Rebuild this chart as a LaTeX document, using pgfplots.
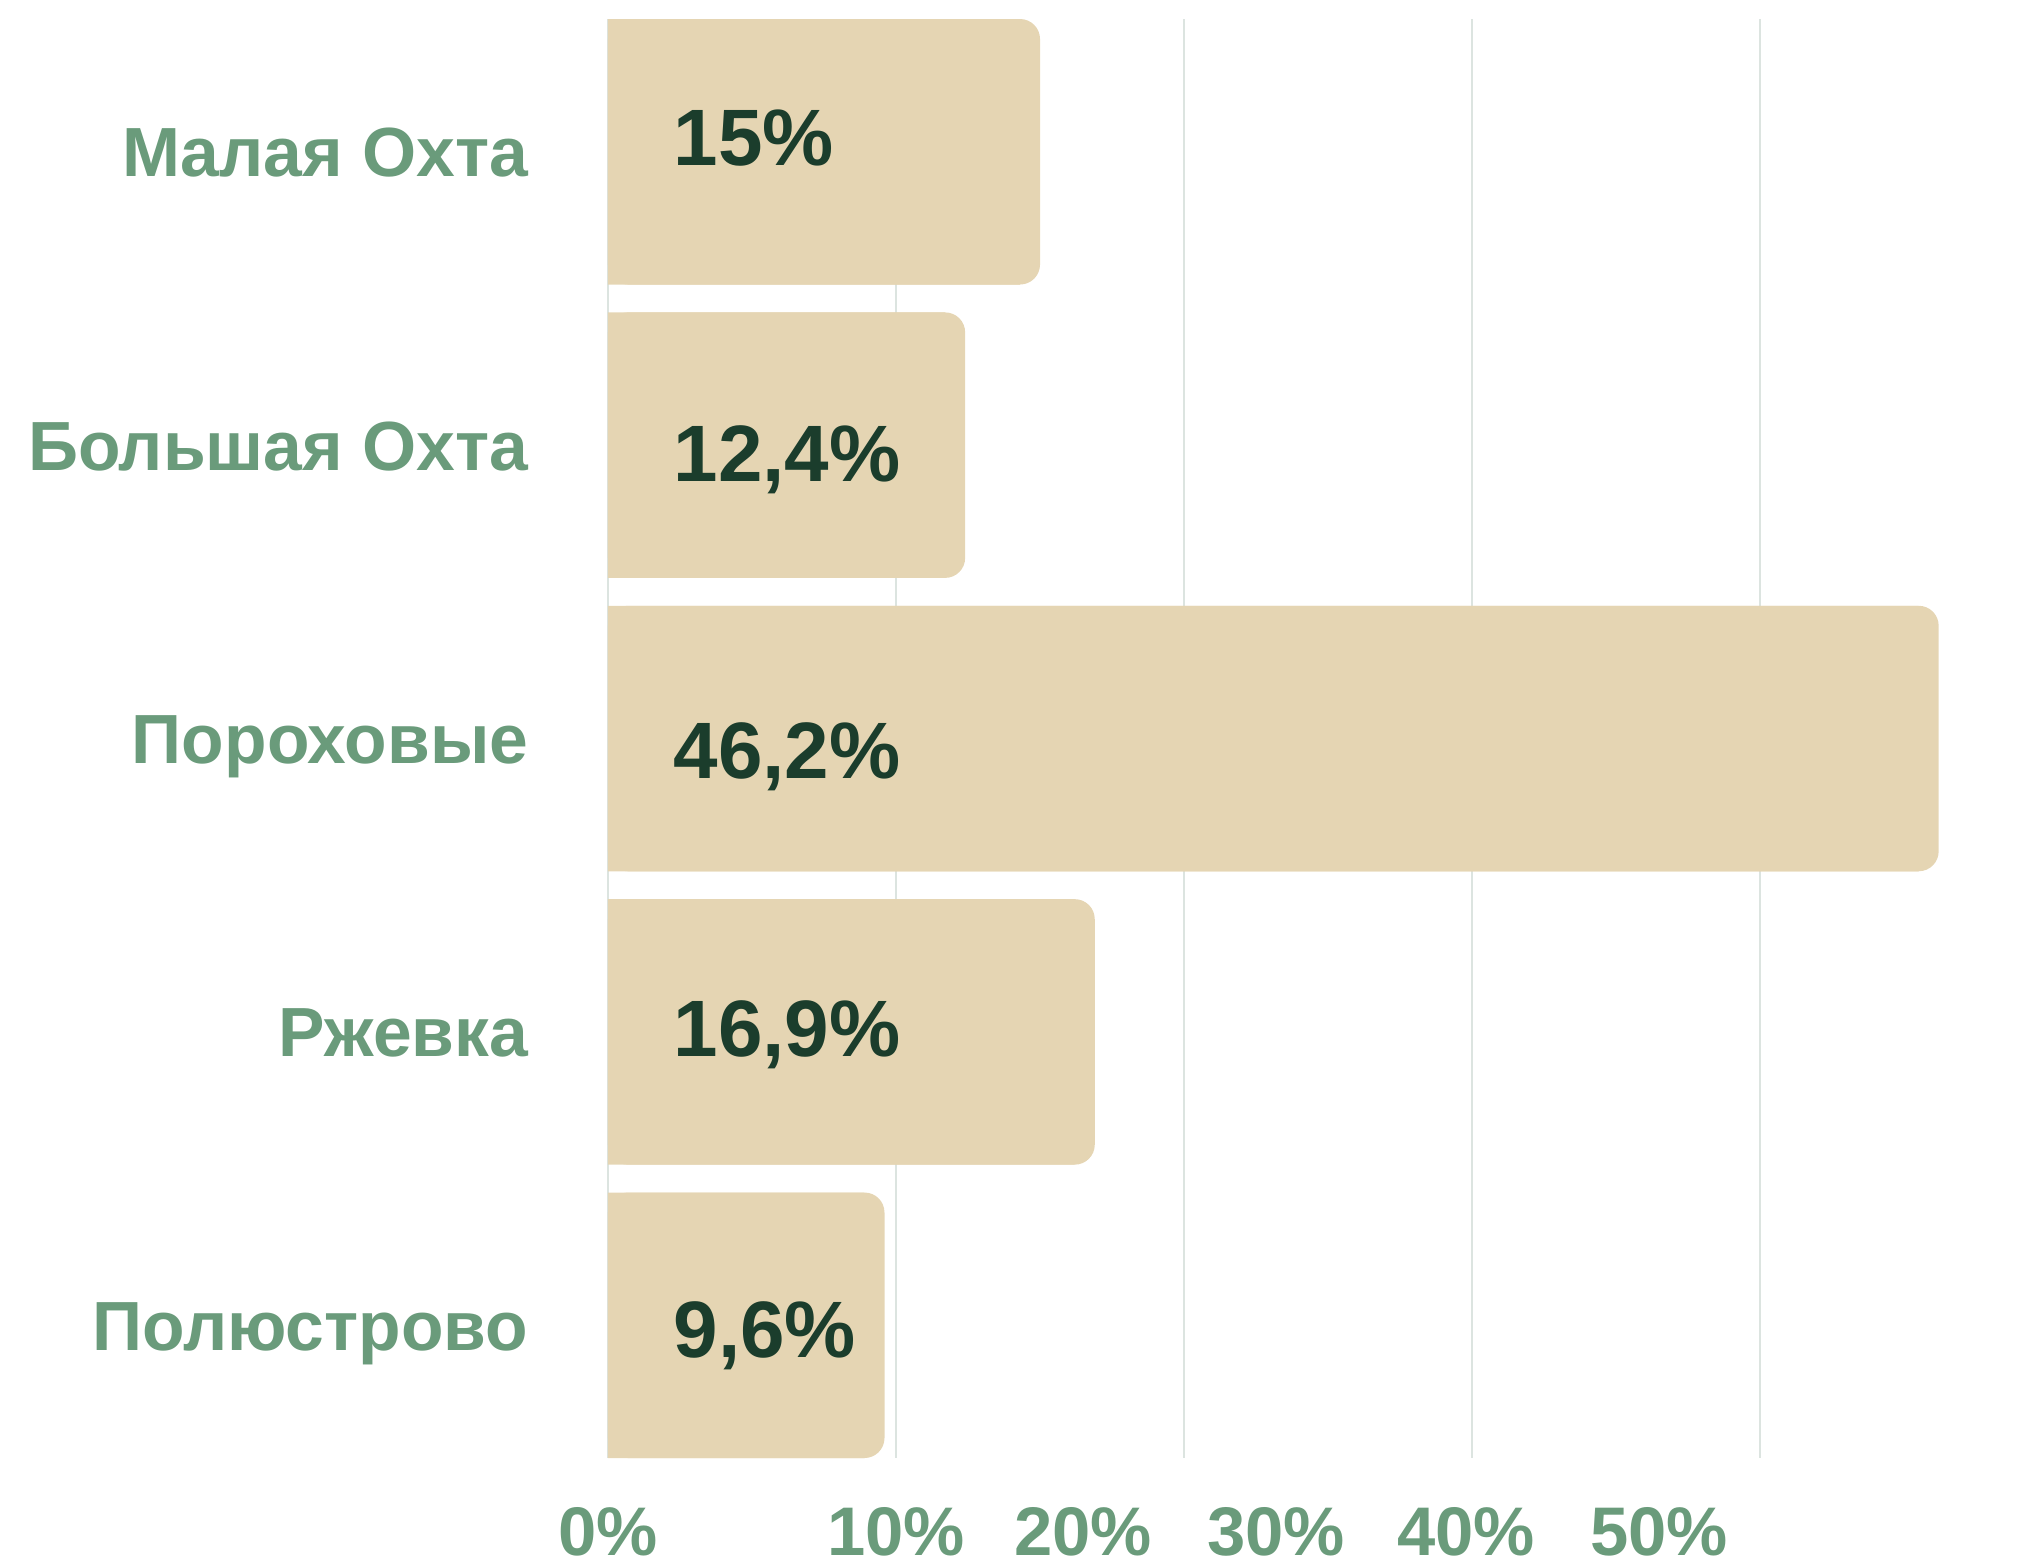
\documentclass[border=0pt]{standalone}
\usepackage{pgfplots}
\usepackage{pgfplotstable}
\pgfplotsset{compat=1.18}
\usepackage{fontspec}
\setmainfont{Liberation Sans}
\definecolor{barfill}{HTML}{E5D5B3}
\definecolor{labgreen}{HTML}{6A9B7B}
\definecolor{valgreen}{HTML}{1B3D2C}
\definecolor{gridc}{HTML}{DCE4E0}

% y: row, v: value
\pgfplotstableread{
y v
0 15
1 12.4
2 46.2
3 16.9
4 9.6
}\data
% ly: vertical position of the value label, lab: its text
\pgfplotstableread{
ly lab
-0.051 15\%
1.026 12,4\%
2.040 46,2\%
2.988 16,9\%
4.012 9,6\%
}\labels

\begin{document}
\begin{tikzpicture}
\begin{axis}[
  scale only axis, width=356pt, height=359.75pt,
  xmin=0, xmax=49.44, ymin=-0.4525, ymax=4.4525, y dir=reverse,
  axis line style={draw=none}, tick style={draw=none},
  xtick={0,10,20,30,40}, xticklabels={}, xmajorgrids,
  grid style={gridc, line width=0.6pt},
  extra x ticks={0,10,16.5,23.2,29.8,36.5},
  extra x tick labels={0\%,10\%,20\%,30\%,40\%,50\%},
  extra x tick style={grid=none},
  xticklabel style={font=\fontsize{17.2}{19}\selectfont\bfseries, text=labgreen, inner sep=0pt, anchor=north},
  xticklabel shift=12.25pt,
  ytick={0,1,2,3,4},
  yticklabels={Малая Охта, Большая Охта, Пороховые, Ржевка, Полюстрово},
  yticklabel style={font=\fontsize{17.4}{20}\selectfont\bfseries, text=labgreen, inner sep=0pt, anchor=base east, yshift=-6.25pt},
  yticklabel shift=19.75pt,
  clip=false,
]
\addplot[xbar, bar shift=0pt, bar width=0.905, fill=barfill, draw=none, rounded corners=5pt] table[x=v, y=y] {\data};
\addplot[xbar, bar shift=0pt, bar width=0.905, fill=barfill, draw=none] table[x expr=\thisrow{v}-0.7, y=y] {\data};
\addplot[draw=none, mark=none, point meta=explicit symbolic, nodes near coords,
  nodes near coords style={font=\fontsize{20}{22}\selectfont\bfseries, text=valgreen, inner sep=0pt, anchor=base west, yshift=-7.15pt}]
  table[x expr=2.25, y=ly, meta=lab] {\labels};
\end{axis}
\pgfresetboundingbox
\path (current axis.south west) ++(-152pt,-26.75pt) rectangle ++(508pt,391.25pt);
\end{tikzpicture}
\end{document}
